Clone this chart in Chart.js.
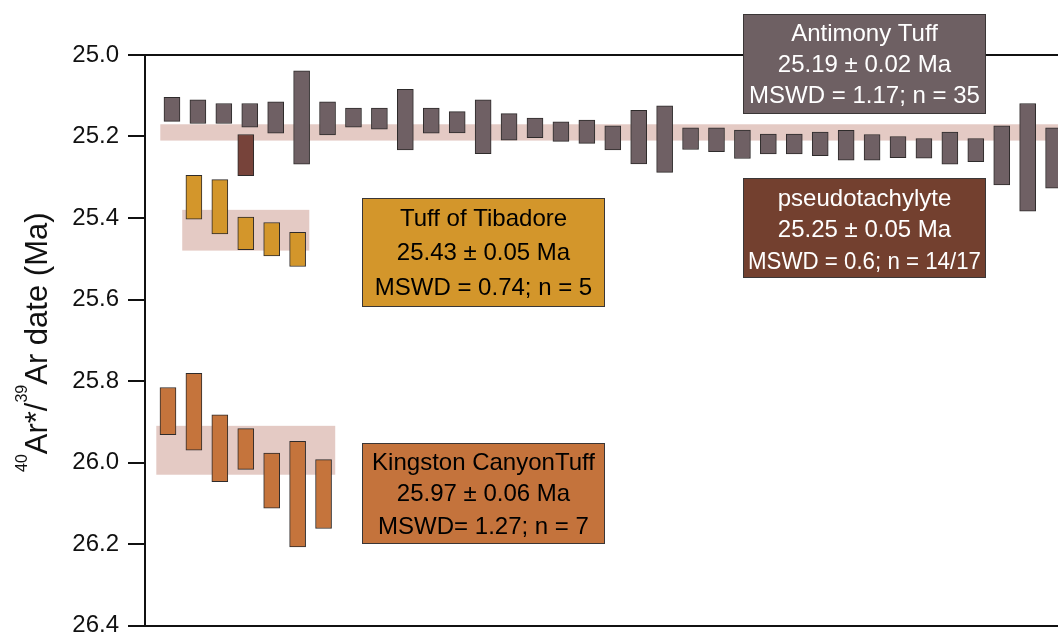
<!DOCTYPE html>
<html>
<head>
<meta charset="utf-8">
<script src="https://cdn.jsdelivr.net/npm/chart.js@4.4.1/dist/chart.umd.min.js"></script>
<style>
  html, body { margin: 0; padding: 0; background: #fff; overflow: hidden; }
  #wrap { position: absolute; left: 0; top: 0; width: 1100px; height: 660px; }
</style>
</head>
<body>
<div id="wrap"><canvas id="c" width="1100" height="660"></canvas></div>
<script>
// Single-grain 40Ar*/39Ar dates, young and old ends of each error bar (Ma)
const antimonyLow  = [25.104, 25.110, 25.119, 25.119, 25.115, 25.039, 25.115, 25.130, 25.130, 25.084,
                      25.130, 25.139, 25.110, 25.144, 25.155, 25.164, 25.160, 25.174, 25.136, 25.125,
                      25.179, 25.179, 25.184, 25.194, 25.194, 25.189, 25.185, 25.195, 25.200, 25.205,
                      25.189, 25.205, 25.174, 25.119, 25.179];
const antimonyHigh = [25.163, 25.168, 25.168, 25.177, 25.192, 25.268, 25.196, 25.177, 25.182, 25.233,
                      25.192, 25.191, 25.242, 25.209, 25.203, 25.212, 25.217, 25.233, 25.267, 25.288,
                      25.232, 25.237, 25.254, 25.243, 25.243, 25.247, 25.258, 25.258, 25.252, 25.253,
                      25.268, 25.262, 25.319, 25.383, 25.327];

const pseudoCols = [3];
const pseudoLow  = [25.195];
const pseudoHigh = [25.296];

const tibadoreCols = [1, 2, 3, 4, 5];
const tibadoreLow  = [25.295, 25.306, 25.398, 25.411, 25.435];
const tibadoreHigh = [25.403, 25.439, 25.478, 25.493, 25.519];

const kingstonCols = [0, 1, 2, 3, 4, 5, 6];
const kingstonLow  = [25.816, 25.781, 25.883, 25.917, 25.977, 25.948, 25.993];
const kingstonHigh = [25.932, 25.970, 26.047, 26.017, 26.112, 26.207, 26.162];

// Weighted mean ages of each unit
const unitNames = ['Antimony Tuff', 'pseudotachylyte', 'Tuff of Tibadore', 'Kingston CanyonTuff'];
const unitAges  = [25.19, 25.25, 25.43, 25.97];
const unitErrs  = [0.02, 0.05, 0.05, 0.06];
const unitStats = ['MSWD = 1.17; n = 35', 'MSWD = 0.6; n = 14/17', 'MSWD = 0.74; n = 5', 'MSWD= 1.27; n = 7'];

// Y axis tick values (Ma)
const yTickValues = [25.0, 25.2, 25.4, 25.6, 25.8, 26.0, 26.2, 26.4];

const FONT = "'Liberation Sans', Arial, Helvetica, sans-serif";
const colors = {
  antimony: '#6f6064',
  pseudo: '#77433a',
  tibadore: '#d3962b',
  kingston: '#c5743c',
  band: '#e4cac4',
  edge: '#2e2b2b'
};

const toPoints = (cols, lo, hi) => lo.map((v, i) => ({ x: cols[i], y: [v, hi[i]] }));
const antimonyCols = antimonyLow.map((_, i) => i);

function barSet(label, data, color, axis) {
  return {
    label, data, xAxisID: axis,
    backgroundColor: color, borderColor: colors.edge, borderWidth: 1,
    borderSkipped: false, barThickness: 16, grouped: false
  };
}

// Mean-age bands: unit index, scale id, column range covered
const bands = [
  { unit: 0, axis: 'x',  cols: antimonyCols },
  { unit: 2, axis: 'xk', cols: tibadoreCols },
  { unit: 3, axis: 'xk', cols: kingstonCols }
];

// Label boxes: unit index, box rectangle, fill, text colour, line centres from the box top
const boxes = [
  { unit: 0, x: 743, y: 14,  w: 243, h: 100, fill: '#6e6063', text: '#ffffff', lines: [19, 50, 80.5] },
  { unit: 1, x: 743, y: 178, w: 243, h: 100, fill: '#73402f', text: '#ffffff', lines: [19.5, 51, 82.8] },
  { unit: 2, x: 362, y: 198, w: 243, h: 109, fill: '#d3962b', text: '#000000', lines: [19.5, 53.8, 88.2] },
  { unit: 3, x: 362, y: 443, w: 243, h: 101, fill: '#c4733c', text: '#000000', lines: [19, 50, 82.2] }
];

const bandPlugin = {
  id: 'meanBands',
  beforeDatasetsDraw(chart) {
    const { ctx, chartArea, scales } = chart;
    const y = scales.y;
    ctx.save();
    ctx.beginPath();
    ctx.rect(chartArea.left, chartArea.top, chartArea.right - chartArea.left, chartArea.bottom - chartArea.top);
    ctx.clip();
    ctx.fillStyle = colors.band;
    bands.forEach(b => {
      const xs = scales[b.axis];
      const x0 = xs.getPixelForValue(b.cols[0] - 0.45);
      const x1 = xs.getPixelForValue(b.cols[b.cols.length - 1] + 0.45);
      const y0 = y.getPixelForValue(unitAges[b.unit] - unitErrs[b.unit]);
      const y1 = y.getPixelForValue(unitAges[b.unit] + unitErrs[b.unit]);
      ctx.fillRect(x0, Math.min(y0, y1), x1 - x0, Math.abs(y1 - y0));
    });
    ctx.restore();
  }
};

const boxPlugin = {
  id: 'unitBoxes',
  afterDatasetsDraw(chart) {
    const ctx = chart.ctx;
    ctx.save();
    boxes.forEach(b => {
      ctx.fillStyle = b.fill;
      ctx.fillRect(b.x, b.y, b.w, b.h);
      ctx.strokeStyle = '#3a3636';
      ctx.lineWidth = 1;
      ctx.strokeRect(b.x + 0.5, b.y + 0.5, b.w - 1, b.h - 1);
      const i = b.unit;
      const texts = [
        unitNames[i],
        unitAges[i].toFixed(2) + ' \u00B1 ' + unitErrs[i].toFixed(2) + ' Ma',
        unitStats[i]
      ];
      ctx.fillStyle = b.text;
      ctx.font = '24px ' + FONT;
      ctx.textAlign = 'center';
      ctx.textBaseline = 'alphabetic';
      texts.forEach((t, k) => ctx.fillText(t, b.x + b.w / 2, b.y + b.lines[k] + 8.3, b.w - 10));
    });
    ctx.restore();
  }
};

// Rotated y-axis title with superscript isotope masses
const yTitlePlugin = {
  id: 'yTitle',
  afterDraw(chart) {
    const { ctx, chartArea } = chart;
    const parts = [
      { t: '40', sup: true }, { t: 'Ar*/', sup: false },
      { t: '39', sup: true }, { t: 'Ar date (Ma)', sup: false }
    ];
    const mainFont = '31px ' + FONT, supFont = '16px ' + FONT;
    ctx.save();
    let total = 0;
    parts.forEach(p => { ctx.font = p.sup ? supFont : mainFont; p.w = ctx.measureText(p.t).width; total += p.w; });
    ctx.translate(47, (chartArea.top + chartArea.bottom) / 2 + 2);
    ctx.rotate(-Math.PI / 2);
    ctx.fillStyle = '#111';
    ctx.textAlign = 'left';
    ctx.textBaseline = 'alphabetic';
    let x = -total / 2;
    parts.forEach(p => {
      ctx.font = p.sup ? supFont : mainFont;
      ctx.fillText(p.t, x, p.sup ? -20 : 0);
      x += p.w;
    });
    ctx.restore();
  }
};

new Chart(document.getElementById('c'), {
  type: 'bar',
  data: {
    datasets: [
      barSet('Antimony Tuff', toPoints(antimonyCols, antimonyLow, antimonyHigh), colors.antimony, 'x'),
      barSet('pseudotachylyte', toPoints(pseudoCols, pseudoLow, pseudoHigh), colors.pseudo, 'xk'),
      barSet('Tuff of Tibadore', toPoints(tibadoreCols, tibadoreLow, tibadoreHigh), colors.tibadore, 'xk'),
      barSet('Kingston Canyon Tuff', toPoints(kingstonCols, kingstonLow, kingstonHigh), colors.kingston, 'xk')
    ]
  },
  options: {
    responsive: false,
    animation: false,
    devicePixelRatio: 1,
    layout: { padding: { top: 55, bottom: 34.5, left: 0, right: 0 } },
    plugins: { legend: { display: false }, tooltip: { enabled: false } },
    scales: {
      x:  { type: 'linear', display: false, offset: false, min: -1.04, max: 35.79 },
      xk: { type: 'linear', display: false, offset: false, min: -0.886, max: 35.944 },
      y: {
        type: 'linear',
        reverse: true,
        min: 25.0,
        max: 26.4,
        afterFit: s => { s.width = 145; },
        afterBuildTicks: s => { s.ticks = yTickValues.map(v => ({ value: v })); },
        ticks: {
          callback: v => Number(v).toFixed(1),
          font: { family: FONT, size: 24 },
          color: '#111',
          padding: 9
        },
        grid: {
          drawOnChartArea: true,
          color: c => (c.index === 0 || c.index === yTickValues.length - 1) ? '#111' : 'rgba(0,0,0,0)',
          tickColor: '#111',
          lineWidth: 2,
          tickWidth: 2,
          tickLength: 17
        },
        border: { display: true, color: '#111', width: 2 }
      }
    }
  },
  plugins: [bandPlugin, boxPlugin, yTitlePlugin]
});
</script>
</body>
</html>
